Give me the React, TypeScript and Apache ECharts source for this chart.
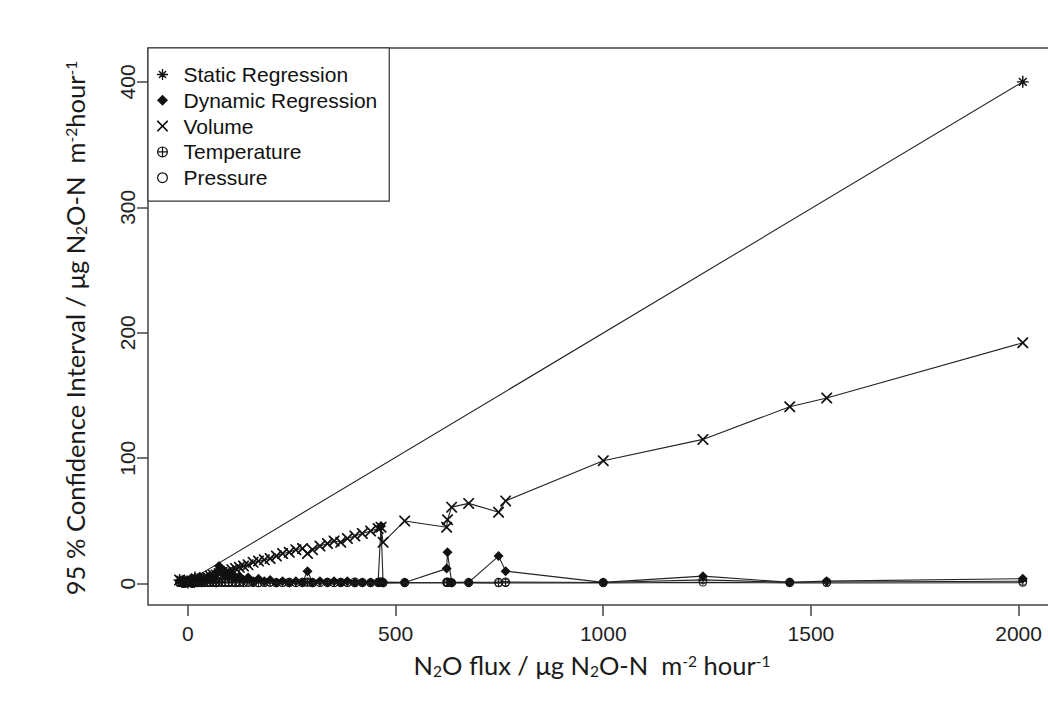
import React, { useEffect, useRef } from "react";
import * as echarts from "echarts";

// ---- data ----
const fluxValues = [
  -20, -14, -8, -3, 0, 4, 8, 12, 17, 22,
  28, 34, 40, 47, 54, 61, 68, 75, 82, 90,
  98, 106, 115, 124, 134, 145, 157, 170, 184, 198,
  213, 228, 244, 260, 276, 288, 300, 318, 336, 352,
  368, 384, 402, 420, 440, 458, 465, 470, 522, 623,
  625, 635, 676, 748, 765, 1000, 1240, 1449, 1538, 2010,
];

const staticCI: (number | null)[] = [
  3, null, 2, null, 1, null, 3, null, 5, null,
  null, null, null, null, null, null, null, null, null, null,
  null, null, null, null, null, null, null, null, null, null,
  null, null, null, null, null, null, null, null, null, null,
  null, null, null, null, null, null, null, null, null, null,
  null, null, null, null, null, null, null, null, null, 400,
];

const dynamicCI = [
  2, 3, 1, 2, 1, 3, 2, 4, 2, 3,
  5, 2, 4, 3, 6, 5, 9, 14, 11, 7,
  5, 8, 4, 6, 3, 5, 2, 4, 2, 3,
  1, 2, 1, 2, 1, 10, 1, 2, 1, 2,
  1, 2, 1, 1, 1, 1, 46, 1, 1, 12,
  25, 1, 1, 22, 10, 1, 6, 1, 2, 4,
];

const volumeCI = [
  3, 2, 2, 1, 1, 1, 2, 2, 3, 3,
  4, 4, 5, 5, 6, 7, 7, 8, 9, 9,
  10, 11, 12, 13, 14, 15, 17, 18, 19, 20,
  22, 24, 25, 27, 28, 24, 27, 30, 32, 34,
  33, 36, 38, 40, 42, 44, 45, 33, 50, 45,
  51, 61, 64, 57, 66, 98, 115, 141, 148, 192,
];

const temperatureCI = [
  1.2, 0.8, 1.5, 0.6, 1.0, 1.3, 0.9, 1.6, 1.1, 0.7,
  1.4, 1.0, 1.8, 0.9, 1.2, 1.5, 0.8, 1.7, 1.1, 1.3,
  0.9, 1.6, 1.0, 1.4, 0.8, 1.2, 1.5, 0.9, 1.1, 1.3,
  0.7, 1.0, 1.2, 0.8, 1.1, 1.4, 0.9, 1.0, 1.2, 0.8,
  1.1, 0.9, 1.3, 1.0, 0.8, 1.2, 1.5, 1.0, 0.9, 1.1,
  1.3, 0.8, 1.0, 1.2, 1.4, 0.9, 3.0, 1.1, 1.3, 2.0,
];

const pressureCI = [
  0.5, 0.4, 0.7, 0.3, 0.6, 0.5, 0.8, 0.4, 0.6, 0.5,
  0.7, 0.4, 0.6, 0.8, 0.5, 0.6, 0.4, 0.7, 0.5, 0.6,
  0.8, 0.5, 0.4, 0.6, 0.7, 0.5, 0.6, 0.4, 0.5, 0.7,
  0.6, 0.5, 0.4, 0.6, 0.5, 0.7, 0.4, 0.6, 0.5, 0.6,
  0.5, 0.7, 0.4, 0.5, 0.6, 0.5, 0.7, 0.4, 0.6, 0.5,
  0.7, 0.5, 0.6, 0.4, 0.6, 0.5, 1.0, 0.6, 0.5, 0.8,
];

const seriesNames = ["Static Regression", "Dynamic Regression", "Volume", "Temperature", "Pressure"];
const xTicks = [0, 500, 1000, 1500, 2000];
const yTicks = [0, 100, 200, 300, 400];

// ---- symbols ----
const SYM_ASTERISK =
  "path://M4.4,0 H5.6 V10 H4.4 Z M0,4.4 H10 V5.6 H0 Z M1.5,1.5 L2.4,1.5 L5,4.1 L7.6,1.5 L8.5,1.5 L8.5,2.4 L5.9,5 L8.5,7.6 L8.5,8.5 L7.6,8.5 L5,5.9 L2.4,8.5 L1.5,8.5 L1.5,7.6 L4.1,5 L1.5,2.4 Z";
const SYM_DIAMOND = "path://M5,0 L10,5 L5,10 L0,5 Z";
const SYM_CROSS =
  "path://M0,0 L1.1,0 L5,3.9 L8.9,0 L10,0 L10,1.1 L6.1,5 L10,8.9 L10,10 L8.9,10 L5,6.1 L1.1,10 L0,10 L0,8.9 L3.9,5 L0,1.1 Z";
const SYM_CIRCLEPLUS =
  "path://M5,0 A5,5 0 1,1 5,10 A5,5 0 1,1 5,0 Z M5,1.1 A3.9,3.9 0 1,0 5,8.9 A3.9,3.9 0 1,0 5,1.1 Z M4.45,1 H5.55 V9 H4.45 Z M1,4.45 H9 V5.55 H1 Z";
const SYM_CIRCLE =
  "path://M5,0 A5,5 0 1,1 5,10 A5,5 0 1,1 5,0 Z M5,1.1 A3.9,3.9 0 1,0 5,8.9 A3.9,3.9 0 1,0 5,1.1 Z";

const symbols = [SYM_ASTERISK, SYM_DIAMOND, SYM_CROSS, SYM_CIRCLEPLUS, SYM_CIRCLE];
const symbolSizes = [12, 10, 11, 9, 8];
const seriesValues = [staticCI, dynamicCI, volumeCI, temperatureCI, pressureCI];

function pairs(values: (number | null)[]) {
  const out: [number, number][] = [];
  fluxValues.forEach((x, i) => {
    const v = values[i];
    if (v !== null && v !== undefined) out.push([x, v]);
  });
  return out;
}

const TICK_FONT = "'Liberation Sans', Arial, sans-serif";
const TITLE_FONT = "Lato, 'Open Sans', sans-serif";

export default function App() {
  const ref = useRef<HTMLDivElement>(null);

  useEffect(() => {
    if (!ref.current) return;
    const chart = echarts.init(ref.current, null, { renderer: "svg" });

    const richTitle = {
      t: { fontSize: 25.5, fontFamily: TITLE_FONT, fill: "#1a1a1a", color: "#1a1a1a", lineHeight: 32, verticalAlign: "middle" },
      sub: { fontSize: 15.5, fontFamily: TITLE_FONT, fill: "#1a1a1a", color: "#1a1a1a", lineHeight: 32, verticalAlign: "bottom", padding: [0, 0, 2, 0] },
      sup: { fontSize: 15.5, fontFamily: TITLE_FONT, fill: "#1a1a1a", color: "#1a1a1a", lineHeight: 32, verticalAlign: "top", padding: [4, 0, 0, 0] },
    };

    const option: any = {
      animation: false,
      backgroundColor: "#ffffff",
      grid: {
        left: 148,
        top: 48,
        right: 4,
        bottom: 102,
        show: true,
        borderColor: "#444",
        borderWidth: 1.5,
        backgroundColor: "transparent",
      },
      xAxis: {
        type: "value",
        min: -96,
        max: 2090,
        axisLine: { show: false, onZero: false },
        splitLine: { show: false },
        axisTick: {
          show: true,
          length: 11,
          customValues: xTicks,
          lineStyle: { color: "#444", width: 1.5 },
        },
        axisLabel: {
          customValues: xTicks,
          formatter: (v: number) => String(v),
          margin: 18,
          fontSize: 21,
          fontFamily: TICK_FONT,
          color: "#222",
        },
      },
      yAxis: {
        type: "value",
        min: -17,
        max: 427,
        axisLine: { show: false, onZero: false },
        splitLine: { show: false },
        axisTick: {
          show: true,
          length: 11,
          customValues: yTicks,
          lineStyle: { color: "#444", width: 1.5 },
        },
        axisLabel: {
          customValues: yTicks,
          formatter: (v: number) => String(v),
          rotate: 90,
          margin: 10,
          fontSize: 21,
          fontFamily: TICK_FONT,
          color: "#222",
        },
      },
      legend: {
        orient: "vertical",
        left: 148,
        top: 48,
        padding: [16, 12, 13, 9],
        itemGap: 4.8,
        itemWidth: 32,
        itemHeight: 11,
        symbolKeepAspect: true,
        borderColor: "#333",
        borderWidth: 1.2,
        backgroundColor: "#fff",
        selectedMode: false,
        textStyle: { fontSize: 21, fontFamily: TICK_FONT, color: "#111", lineHeight: 20 },
        data: seriesNames.map((name, i) => ({ name, icon: symbols[i] })),
      },
      graphic: [
        {
          type: "text",
          x: 75,
          y: 328,
          rotation: Math.PI / 2,
          style: {
            text: "{t|95 % Confidence Interval / μg N}{sub|2}{t|O-N  m}{sup|-2}{t|hour}{sup|-1}",
            rich: richTitle,
            align: "center",
            verticalAlign: "middle",
          },
        },
        {
          type: "text",
          x: 592,
          y: 665,
          style: {
            text: "{t|N}{sub|2}{t|O flux / μg N}{sub|2}{t|O-N  m}{sup|-2}{t| hour}{sup|-1}",
            rich: richTitle,
            align: "center",
            verticalAlign: "middle",
          },
        },
      ],
      series: seriesNames.map((name, i) => ({
        name,
        type: "line",
        data: pairs(seriesValues[i]),
        symbol: symbols[i],
        symbolSize: symbolSizes[i],
        symbolKeepAspect: true,
        showSymbol: true,
        showAllSymbol: true,
        silent: true,
        itemStyle: { color: "#111" },
        lineStyle: { color: "#222", width: 1.1 },
        z: 2 + i,
      })),
    };

    chart.setOption(option);
    return () => chart.dispose();
  }, []);

  return (
    <div
      style={{
        position: "fixed",
        left: 0,
        top: 0,
        width: 1048,
        height: 707,
        overflow: "hidden",
        background: "#fff",
      }}
    >
      <div ref={ref} style={{ width: 1060, height: 707 }} />
    </div>
  );
}
